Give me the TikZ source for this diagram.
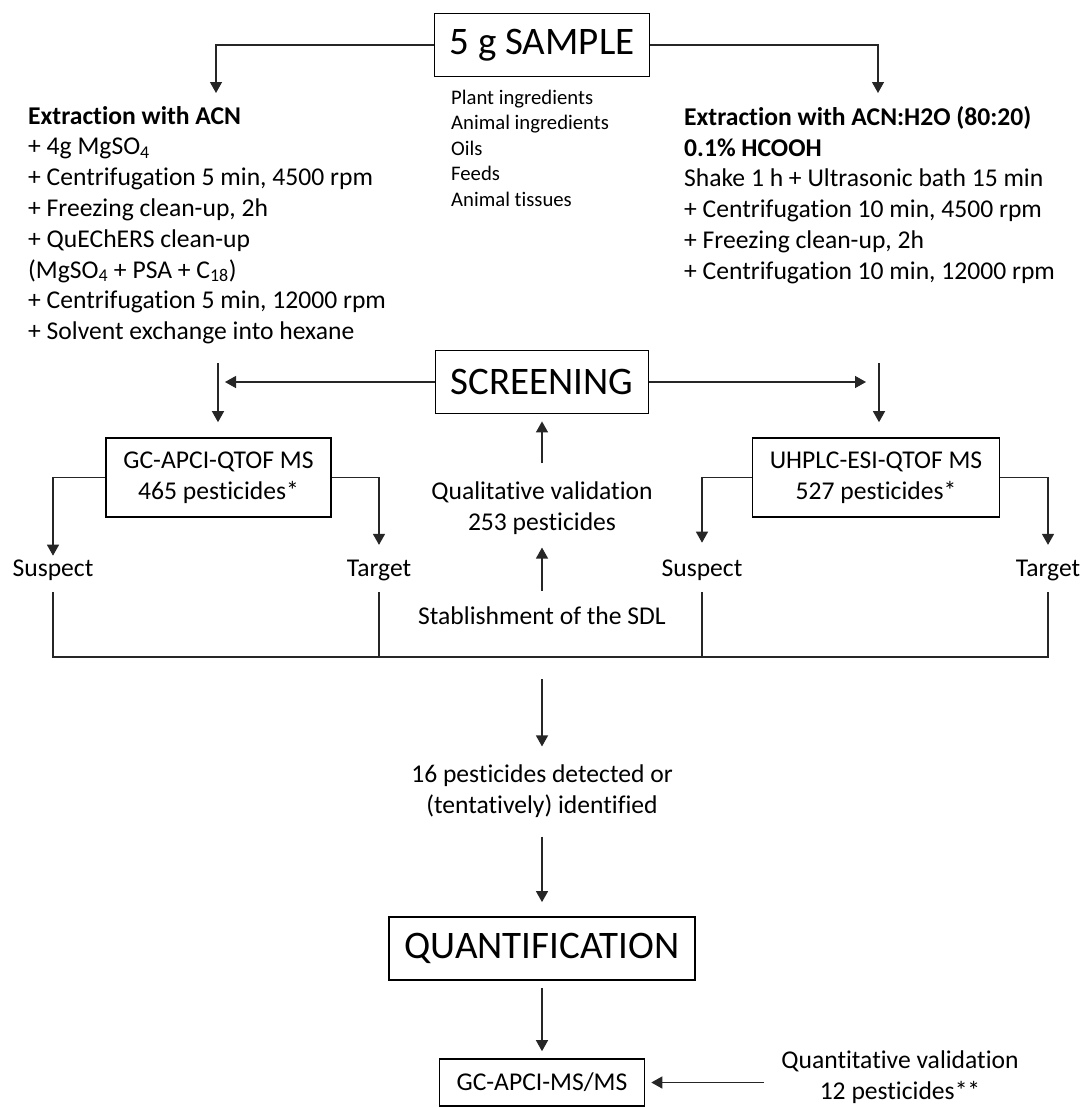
\documentclass[tikz,border=0pt]{standalone}
\usepackage{fontspec}
\setmainfont{Carlito}[Ligatures=NoCommon]
\usetikzlibrary{arrows.meta}

\begin{document}
\begin{tikzpicture}[
  x=1pt, y=-1pt,
  font=\fontsize{25.6}{30.8}\selectfont,
  stagebox/.style={draw, line width=1.8pt, minimum height=63pt, inner sep=0pt, font=\fontsize{39}{41}\selectfont},
  instbox/.style={draw, line width=1.6pt, align=center, inner sep=0pt},
  conn/.style={draw=black!85, line width=1.3pt},
  arr/.style={conn, -{Triangle[length=11pt,width=12pt]}},
  lbl/.style={inner sep=0pt},
  steps/.style={inner sep=0pt, align=left, anchor=north west},
  small/.style={font=\fontsize{20.7}{25.4}\selectfont},
]
\useasboundingbox (0,0) rectangle (1083,1108);

% sample and the two extractions
\node[stagebox, minimum width=215pt] (sample) at (542,45) {5 g SAMPLE};
\node[steps, small] (matrix) at (451,90) {Plant ingredients\\Animal ingredients\\Oils\\Feeds\\Animal tissues};
\node[steps] (extacn) at (28,106) {\textbf{Extraction with ACN}\\
  + 4g MgSO\textsubscript{4}\\
  + Centrifugation 5 min, 4500 rpm\\
  + Freezing clean-up, 2h\\
  + QuEChERS clean-up\\
  (MgSO\textsubscript{4} + PSA + C\textsubscript{18})\\
  + Centrifugation 5 min, 12000 rpm\\
  + Solvent exchange into hexane};
\node[steps] (exth2o) at (684,106) {\textbf{Extraction with ACN:H2O (80:20)}\\
  \textbf{0.1\% HCOOH}\\
  Shake 1 h + Ultrasonic bath 15 min\\
  + Centrifugation 10 min, 4500 rpm\\
  + Freezing clean-up, 2h\\
  + Centrifugation 10 min, 12000 rpm};
\coordinate (inacn) at (216,93);
\coordinate (inh2o) at (878,93);
\draw[arr] (sample) -| (inacn);
\draw[arr] (sample) -| (inh2o);

% screening
\node[stagebox, minimum width=213pt] (screen) at (542,382) {SCREENING};
\coordinate (gctop) at (218,363);
\coordinate (lctop) at (879,363);
\node[instbox, minimum width=225pt, minimum height=79pt] (gc) at (218.5,477.5) {GC-APCI-QTOF MS\\465 pesticides*};
\node[instbox, minimum width=247pt, minimum height=79pt] (lc) at (876,477.5) {UHPLC-ESI-QTOF MS\\527 pesticides*};
\draw[arr] (screen.west) -- ([xshift=7pt]gctop |- screen);
\draw[arr] (screen.east) -- ([xshift=-13pt]lctop |- screen);
\draw[arr, shorten >=15pt] (gctop) -- (gctop |- gc.north);
\draw[arr, shorten >=15pt] (lctop) -- (lctop |- lc.north);

\node[lbl, anchor=base] (gcsus) at (53,576.5) {Suspect};
\node[lbl, anchor=base] (gctar) at (379,576.5) {Target};
\node[lbl, anchor=base] (lcsus) at (702,576.5) {Suspect};
\node[lbl, anchor=base] (lctar) at (1048,576.5) {Target};
\draw[arr] (gc.west) -| ([yshift=4pt]gcsus.north);
\draw[arr] (gc.east) -| ([yshift=15pt]gctar.north);
\draw[arr] (lc.west) -| ([yshift=17pt]lcsus.north);
\draw[arr] (lc.east) -| ([yshift=15pt]lctar.north);

% SDL and validation
\node[lbl, align=center] (qual) at (542,508) {Qualitative validation\\253 pesticides};
\node[lbl] (sdl) at (542,616) {Stablishment of the SDL};
\draw[arr, shorten >=7pt] ([yshift=18pt]qual.north) -- (screen.south);
\draw[arr, shorten >=13pt] ([yshift=16pt]sdl.north) -- (qual.south);

% collecting line
\coordinate (bus) at (542,657);
\draw[conn] ([yshift=-11pt]gcsus.south) -- (gcsus |- bus) -- (lctar |- bus) -- ([yshift=-11pt]lctar.south);
\draw[conn] ([yshift=-11pt]gctar.south) -- (gctar |- bus);
\draw[conn] ([yshift=-11pt]lcsus.south) -- (lcsus |- bus);

% results and quantification
\node[lbl, align=center] (found) at (542,791) {16 pesticides detected or\\(tentatively) identified};
\node[stagebox, minimum width=306pt] (quant) at (542,948.5) {QUANTIFICATION};
\node[instbox, minimum width=205pt, minimum height=47pt] (msms) at (542,1082.5) {GC-APCI-MS/MS};
\node[lbl, align=center] (quval) at (900,1077) {Quantitative validation\\12 pesticides**};
\draw[arr] ([yshift=-22pt]bus) -- ([yshift=18pt]found.north);
\draw[arr, shorten <=19pt, shorten >=14pt] (found.south) -- (quant.north);
\draw[arr, shorten <=7pt, shorten >=7pt] (quant.south) -- (msms.north);
\draw[arr, shorten <=17pt, shorten >=6pt] (quval.west |- msms.east) -- (msms.east);
\end{tikzpicture}
\end{document}
